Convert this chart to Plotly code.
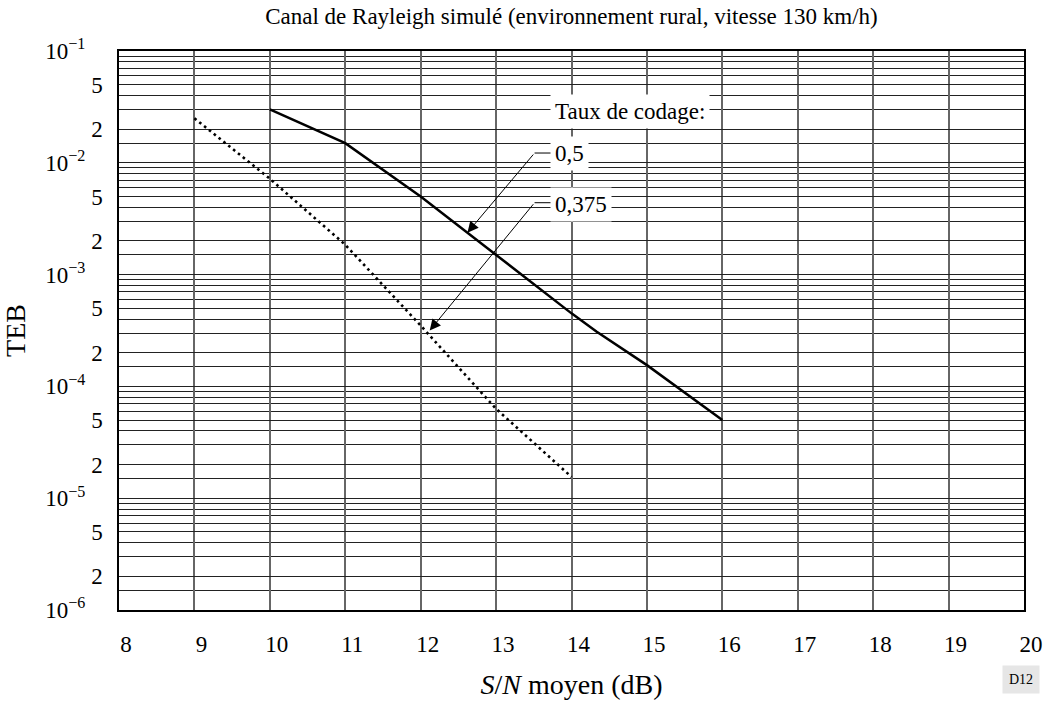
import plotly.graph_objs as go

# Taux de codage 0,5 (trait plein)
snr_05 = [10, 11, 12, 13, 14, 14.33, 15, 16]
teb_05 = [3.0e-2, 1.5e-2, 5.0e-3, 1.5e-3, 4.5e-4, 3.1e-4, 1.55e-4, 5.0e-5]

# Taux de codage 0,375 (pointillé)
snr_0375 = [9, 10, 11, 12, 13, 14]
teb_0375 = [2.5e-2, 7.2e-3, 1.85e-3, 3.5e-4, 6.3e-5, 1.55e-5]

x_ticks = list(range(8, 21))

pad = "\u00a0\u00a0\u00a0"
y_tick_vals = [1e-6, 2e-6, 5e-6, 1e-5, 2e-5, 5e-5, 1e-4, 2e-4, 5e-4,
               1e-3, 2e-3, 5e-3, 1e-2, 2e-2, 5e-2, 1e-1]
y_tick_text = ["10<sup>\u22126</sup>" + pad, "2", "5",
               "10<sup>\u22125</sup>" + pad, "2", "5",
               "10<sup>\u22124</sup>" + pad, "2", "5",
               "10<sup>\u22123</sup>" + pad, "2", "5",
               "10<sup>\u22122</sup>" + pad, "2", "5",
               "10<sup>\u22121</sup>" + pad]

mantisses_mineures = [1.5, 3, 4, 6, 7, 8, 9]
y_minor_vals = [m * 10.0 ** d for d in range(-6, -1) for m in mantisses_mineures]

FONT = "Liberation Serif"
FS = 23

fig = go.Figure()

fig.add_trace(go.Scatter(
    x=snr_05, y=teb_05, mode="lines",
    line=dict(color="black", width=2.5),
    showlegend=False, hoverinfo="skip",
))
fig.add_trace(go.Scatter(
    x=snr_0375, y=teb_0375, mode="lines",
    line=dict(color="black", width=2.6, dash="2.6px,3.6px"),
    showlegend=False, hoverinfo="skip",
))

# flèches de repère
arrow = dict(xref="x", yref="y", axref="x", ayref="y", text="",
             showarrow=True, arrowhead=2, arrowsize=2.2, arrowwidth=1,
             arrowcolor="black", standoff=0)
fig.add_annotation(x=12.62, y=-2.625, ax=13.51, ay=-1.9125, **arrow)
fig.add_annotation(x=12.12, y=-3.50, ax=13.51, ay=-2.357, **arrow)

label = dict(xref="x", yref="y", showarrow=False, xanchor="left",
             bgcolor="white", borderpad=4,
             font=dict(family=FONT, size=FS, color="black"))
fig.add_annotation(x=13.72, y=-1.542, text="Taux de codage:", **label)
fig.add_annotation(x=13.72, y=-1.9125, text="0,5", **label)
fig.add_annotation(x=13.72, y=-2.372, text="0,375", **label)

for yp in [0.8175, 0.7286]:
    fig.add_shape(type="line", xref="x", yref="paper",
                  x0=13.51, x1=13.78, y0=yp, y1=yp,
                  line=dict(color="black", width=1))

fig.add_annotation(xref="paper", yref="paper", x=0.997, y=-0.124,
                   xanchor="center", yanchor="middle",
                   text="D12", showarrow=False, bgcolor="#e6e6e6",
                   borderpad=6, font=dict(family=FONT, size=14, color="black"))

fig.update_layout(
    width=1055, height=707,
    margin=dict(l=118, r=29, t=51, b=90),
    paper_bgcolor="white", plot_bgcolor="white",
    font=dict(family=FONT, size=FS, color="black"),
    title=dict(text="Canal de Rayleigh simulé (environnement rural, vitesse 130 km/h)",
               x=0.5, xanchor="center", xref="paper",
               y=1 - 16 / 707, yanchor="middle", yref="container",
               font=dict(family=FONT, size=FS, color="black")),
    xaxis=dict(
        range=[8, 20], tickmode="array", tickvals=x_ticks,
        showgrid=True, gridcolor="#666666", gridwidth=1.5,
        showline=True, linecolor="black", linewidth=1.5, mirror=True,
        zeroline=False, ticks="", ticklabelshift=7, ticklabelstandoff=13,
        title=dict(text="<i>S</i>/<i>N</i> moyen (dB)", standoff=18),
    ),
    yaxis=dict(
        type="log", range=[-6, -1], tickmode="array",
        tickvals=y_tick_vals, ticktext=y_tick_text,
        showgrid=True, gridcolor="#222222", gridwidth=1,
        minor=dict(tickvals=y_minor_vals, showgrid=True,
                   gridcolor="#222222", gridwidth=1, ticks=""),
        showline=True, linecolor="black", linewidth=1.5, mirror=True,
        zeroline=False, ticks="", ticklabelstandoff=10,
        title=dict(text="TEB", standoff=14),
    ),
)

fig.write_html("out.html", config={"displayModeBar": False},
               post_script="document.body.style.margin='0px';")
